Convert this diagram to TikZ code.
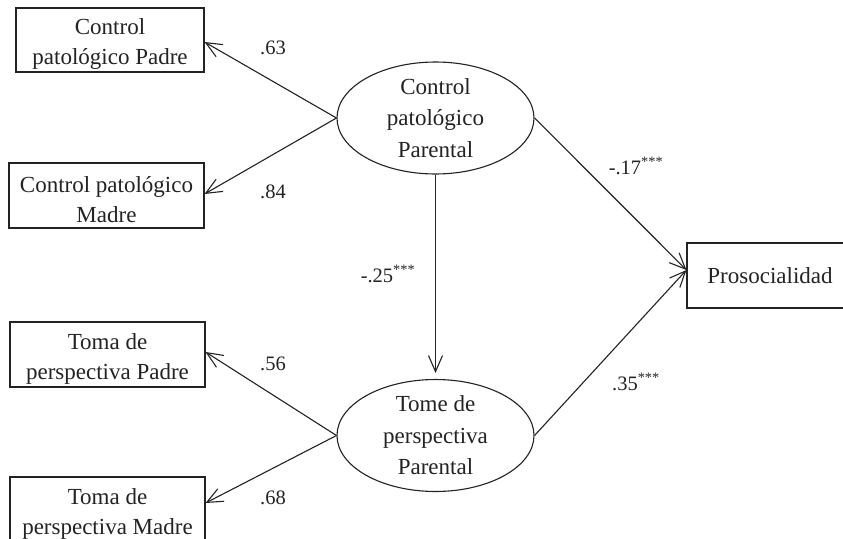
\documentclass[tikz,border=0pt]{standalone}
\usepackage{fontspec}
\setmainfont{Liberation Serif}
\usetikzlibrary{arrows.meta,shapes.geometric}
\definecolor{ink}{RGB}{35,35,35}
\begin{document}
\begin{tikzpicture}[x=1pt,y=-1pt,
  every node/.style={text=ink},
  obsbox/.style={draw=ink,line width=1.1pt,rectangle,inner sep=0pt,align=center,
     font=\fontsize{23}{30}\selectfont},
  boxtext/.style={inner sep=0pt,align=center,font=\fontsize{23}{30}\selectfont},
  latent/.style={draw=ink,line width=1.1pt,ellipse,inner sep=0pt,align=center,
     font=\fontsize{23}{31.5}\selectfont},
  conn/.style={draw=ink,line width=1.1pt,-{Straight Barb[length=16pt,width=14pt,line width=1.1pt]}},
  lbl/.style={font=\fontsize{20.5}{24}\selectfont,inner sep=0pt}]
\useasboundingbox (0,0) rectangle (843,538);
\fill[white] (0,0) rectangle (843,538);
\node[obsbox,minimum width=188pt,minimum height=64pt] (b1) at (110,40) {};
\node[obsbox,minimum width=195pt,minimum height=65pt] (b2) at (106.5,195.5) {};
\node[obsbox,minimum width=195pt,minimum height=65pt] (b3) at (107.5,354.5) {};
\node[obsbox,minimum width=195pt,minimum height=65pt] (b4) at (107.5,509.5) {};
\node[boxtext] (t1) at ([yshift=-4pt]b1.center) {Control\\patológico Padre};
\node[boxtext] (t2) at ([yshift=-4pt]b2.center) {Control patológico\\Madre};
\node[boxtext] (t3) at ([yshift=-4pt]b3.center) {Toma de\\perspectiva Padre};
\node[boxtext] (t4) at ([yshift=-4pt]b4.center) {Toma de\\perspectiva Madre};
\node[latent,minimum width=197pt,minimum height=100pt] (e1) at (435.5,118) {Control\\patológico\\Parental};
\node[latent,minimum width=197pt,minimum height=101pt] (e2) at (435.5,435.5) {Tome de\\perspectiva\\Parental};
\node[obsbox,minimum width=166pt,minimum height=65pt] (p) at (770,275.5) {Prosocialidad};
\draw[conn] (e1.west) -- (b1.east |- 0,42);
\draw[conn] (e1.west) -- (b2.east |- 0,194);
\draw[conn] (e2.west) -- (b3.east |- 0,352);
\draw[conn] (e2.west) -- (b4.east |- 0,503);
\draw[conn] (e1.south) -- ([yshift=6pt]e2.north);
\draw[conn] (e1.east) -- (p.west |- 0,270);
\draw[conn] (e2.east) -- (p.west |- 0,270);
\node[lbl] (l1) at (273,48) {.63};
\node[lbl] (l2) at (273,192) {.84};
\node[lbl] (l3) at (273,364) {.56};
\node[lbl] (l4) at (273,498) {.68};
\node[lbl] (l5) at (388,274) {-.25\textsuperscript{***}};
\node[lbl] (l6) at (636,166) {-.17\textsuperscript{***}};
\node[lbl] (l7) at (636,382) {.35\textsuperscript{***}};
\end{tikzpicture}
\end{document}
